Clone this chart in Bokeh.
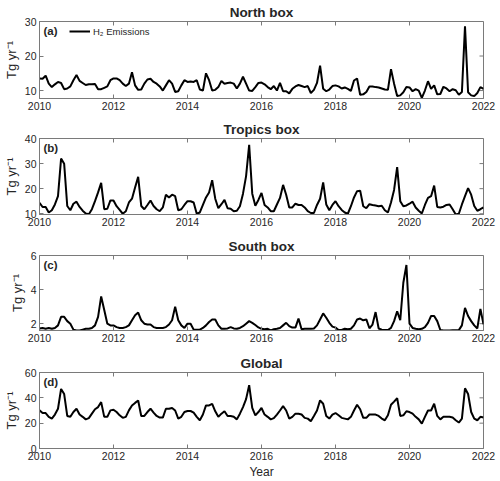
import numpy as np
from bokeh.plotting import figure
from bokeh.layouts import column
from bokeh.models import Range1d, FixedTicker, Label, Legend, LegendItem
from bokeh.embed import file_html
from bokeh.resources import INLINE

# Monthly H2 emissions (Tg yr-1), Jan 2010 .. Jan 2022
north_box = [
    13.5, 13.4, 14.3, 12.0, 11.0, 11.8, 12.5, 12.2, 10.4, 10.6, 11.2, 13.0,
    14.5, 12.8, 12.2, 11.6, 11.8, 11.8, 11.9, 10.4, 10.4, 10.8, 11.2, 13.0,
    13.5, 13.5, 13.0, 12.0, 11.3, 12.0, 15.3, 11.5, 10.2, 10.3, 12.0, 13.2,
    13.4, 12.5, 12.0, 11.2, 10.0, 11.5, 13.0, 12.0, 9.6, 9.8, 11.5, 13.0,
    12.5, 12.6, 12.5, 13.0, 10.3, 10.0, 15.0, 13.0, 10.0, 10.2, 11.0, 12.8,
    12.0, 12.2, 12.3, 12.0, 10.6, 12.0, 14.0, 12.0, 10.0, 9.9, 11.0, 12.2,
    12.3, 11.8, 11.0, 10.4, 11.3, 10.0, 12.2, 9.8, 9.8, 9.2, 10.5, 11.2,
    11.6, 11.3, 11.0, 11.3, 9.3, 10.2, 12.2, 17.2, 10.5, 9.8, 10.3, 11.3,
    11.5, 11.2, 10.6, 10.9, 10.5, 9.9, 12.9, 13.5, 8.8, 8.9, 9.6, 11.2,
    11.2, 11.0, 10.9, 10.6, 10.3, 10.2, 16.2, 12.0, 8.4, 8.6, 9.5, 11.0,
    10.9, 9.8, 10.4, 10.0, 7.9, 10.0, 12.7, 10.5, 11.5, 8.9, 9.0, 11.1,
    10.6, 9.8, 10.4, 10.1, 8.8, 9.6, 28.6, 9.5, 8.6, 8.4, 9.3, 11.0,
    10.5,
]
tropics_box = [
    14.4, 12.7, 12.7, 10.5, 11.4, 13.7, 17.0, 32.0, 29.9, 13.1, 11.4, 14.0,
    14.8, 12.7, 11.2, 10.1, 9.8, 11.8, 15.0, 18.5, 22.3, 11.8, 12.0, 15.3,
    15.3, 13.0, 11.5, 10.0, 11.0, 14.5, 16.0, 20.5, 24.7, 13.1, 11.8, 13.5,
    15.3, 13.1, 11.8, 11.0, 12.5, 17.6, 16.5, 17.6, 17.0, 11.4, 11.8, 13.5,
    15.0, 15.0, 14.5, 10.0, 10.5, 13.5, 16.5, 18.5, 23.4, 16.0, 12.2, 13.8,
    15.5, 12.2, 12.0, 11.0, 11.2, 13.0, 18.0, 25.0, 37.5, 18.0, 13.2, 15.5,
    18.3, 13.5, 12.5, 11.0, 11.0, 13.7, 16.3, 21.5, 17.6, 12.5, 12.5, 14.0,
    13.5, 13.5, 12.5, 11.0, 10.3, 10.3, 13.5, 16.0, 22.5, 13.7, 11.4, 13.5,
    15.0, 13.0, 11.5, 10.5, 10.0, 13.0, 16.5, 19.0, 19.2, 13.0, 12.2, 13.8,
    13.5, 13.3, 13.0, 13.2, 11.4, 10.5, 14.5, 19.5, 28.6, 15.0, 13.0, 13.3,
    14.0, 14.8, 12.5, 11.2, 10.1, 13.5, 16.3, 17.0, 21.2, 12.7, 12.5, 12.8,
    13.5, 13.7, 11.8, 9.7, 10.0, 13.7, 17.0, 20.2, 17.6, 13.1, 11.2, 11.8,
    12.5,
]
south_box = [
    1.72, 1.75, 1.70, 1.75, 1.70, 1.75, 1.90, 2.40, 2.40, 2.15, 2.00, 1.65,
    1.60, 1.60, 1.65, 1.70, 1.70, 1.75, 1.90, 2.40, 3.60, 2.80, 2.00, 1.90,
    1.90, 1.80, 1.75, 1.75, 1.80, 1.90, 2.20, 2.50, 2.65, 2.20, 2.00, 1.95,
    1.95, 1.80, 1.75, 1.75, 1.75, 1.80, 1.95, 2.20, 3.00, 2.20, 1.90, 1.75,
    2.00, 2.00, 1.65, 1.65, 1.65, 1.75, 1.90, 2.10, 2.25, 2.25, 1.90, 1.70,
    1.70, 1.72, 1.80, 1.72, 1.70, 1.75, 1.85, 2.00, 2.15, 2.05, 1.92, 1.78,
    1.70, 1.67, 1.70, 1.60, 1.67, 1.70, 1.75, 1.90, 2.05, 1.86, 1.77, 1.77,
    2.30, 1.67, 1.70, 1.70, 1.70, 1.72, 1.90, 2.25, 2.60, 2.35, 2.05, 1.83,
    1.77, 1.63, 1.63, 1.70, 1.67, 1.70, 1.90, 2.25, 2.30, 2.20, 2.25, 1.73,
    1.95, 2.68, 1.72, 1.65, 1.63, 1.63, 1.75, 2.15, 2.73, 2.20, 4.40, 5.44,
    2.00, 1.75, 1.70, 1.68, 1.70, 1.80, 2.05, 2.45, 2.45, 2.15, 1.63, 1.60,
    1.60, 1.60, 1.62, 1.62, 1.62, 1.90, 2.93, 2.45, 2.15, 1.90, 1.72, 2.87,
    1.96,
]
global_total = [
    30.1, 28.0, 28.0, 25.0, 23.6, 26.8, 31.4, 47.0, 43.0, 25.7, 25.0, 28.8,
    31.4, 26.8, 25.0, 23.0, 24.0, 27.5, 31.0, 32.7, 36.6, 25.0, 25.0, 30.1,
    30.6, 28.8, 26.2, 24.2, 25.0, 30.1, 34.0, 36.0, 37.9, 25.7, 25.7, 28.8,
    31.4, 28.3, 25.7, 24.4, 24.4, 31.4, 31.4, 32.0, 30.0, 23.6, 25.0, 28.8,
    29.6, 29.6, 28.3, 25.0, 22.3, 26.8, 34.0, 34.0, 35.3, 29.4, 25.0, 27.5,
    29.4, 25.7, 25.7, 25.0, 23.0, 27.5, 32.7, 39.0, 50.0, 32.0, 26.2, 28.8,
    32.0, 26.8, 25.0, 23.0, 24.0, 26.8, 30.0, 33.5, 30.0, 23.6, 25.0, 27.5,
    27.5, 26.8, 24.2, 23.6, 21.6, 25.7, 30.0, 38.0, 35.3, 25.7, 23.6, 26.8,
    28.0, 26.2, 24.2, 23.6, 23.0, 25.0, 30.0, 34.5, 31.0, 24.2, 24.2, 26.8,
    26.8, 26.8, 25.7, 23.6, 22.3, 26.2, 34.5, 37.0, 39.7, 25.7, 26.2, 29.4,
    28.8, 27.5, 25.0, 23.0, 19.7, 25.0, 30.0, 30.0, 35.3, 25.7, 23.0, 25.0,
    25.0, 25.0, 24.4, 22.3, 20.5, 23.6, 47.5, 43.0, 28.8, 23.6, 22.3, 25.0,
    24.4,
]

year_ticks = [2010, 2012, 2014, 2016, 2018, 2020, 2022]
time = 2010 + np.arange(len(north_box)) / 12.0

FONT = "Liberation Sans"
TEXT = "#262626"
AXC = "#7a7a7a"


def style_axis(ax, ticks):
    ax.ticker = FixedTicker(ticks=ticks)
    ax.minor_tick_line_color = None
    ax.major_tick_in = 4
    ax.major_tick_out = 0
    ax.major_tick_line_color = AXC
    ax.axis_line_color = AXC
    ax.major_label_text_font = FONT
    ax.major_label_text_color = TEXT
    ax.major_label_text_font_size = "10.5px"
    ax.major_label_standoff = 3


def panel(vals, title, ylo, yhi, yticks, letter, height, top, bottom, xlabel=None):
    p = figure(width=500, height=height, output_backend="svg", toolbar_location=None,
               x_range=Range1d(2010, 2022), y_range=Range1d(ylo, yhi),
               min_border_left=39, min_border_right=17,
               min_border_top=top, min_border_bottom=bottom)
    p.grid.visible = False
    p.outline_line_color = AXC
    p.background_fill_color = "white"
    p.border_fill_color = "white"

    style_axis(p.xaxis[0], year_ticks)
    style_axis(p.yaxis[0], yticks)
    p.yaxis[0].axis_label = "Tg yr\u207b\u00b9"
    p.yaxis[0].axis_label_text_font = FONT
    p.yaxis[0].axis_label_text_font_style = "normal"
    p.yaxis[0].axis_label_text_font_size = "13px"
    p.yaxis[0].axis_label_text_color = TEXT
    p.yaxis[0].axis_label_standoff = 3
    if xlabel:
        p.xaxis[0].axis_label = xlabel
        p.xaxis[0].axis_label_text_font = FONT
        p.xaxis[0].axis_label_text_font_style = "normal"
        p.xaxis[0].axis_label_text_font_size = "12px"
        p.xaxis[0].axis_label_text_color = TEXT
        p.xaxis[0].axis_label_standoff = 2

    # mirrored inward tick marks along the top and right edges of the box
    p.ray(x=year_ticks, y=[yhi] * len(year_ticks), length=4, length_units="screen",
          angle=-np.pi / 2, line_color=AXC, line_width=1)
    p.ray(x=[2022] * len(yticks), y=yticks, length=4, length_units="screen",
          angle=np.pi, line_color=AXC, line_width=1)

    p.title.text = title
    p.title.align = "center"
    p.title.text_font = FONT
    p.title.text_font_size = "13.5px"
    p.title.text_font_style = "bold"
    p.title.text_color = TEXT
    p.title.standoff = 4

    r = p.line(time, vals, line_color="black", line_width=2)

    p.add_layout(Label(x=2010, y=yhi, x_offset=4, y_offset=-3, text=letter,
                       text_baseline="top", text_font=FONT, text_font_size="11.5px",
                       text_font_style="bold", text_color=TEXT))
    return p, r


pa, ra = panel(north_box, "North box", 7.7, 30, [10, 20, 30], "(a)", 117, 20, 19)
pb, _ = panel(tropics_box, "Tropics box", 9.7, 40, [10, 20, 30, 40], "(b)", 116, 20, 19)
pc, _ = panel(south_box, "South box", 1.6, 6, [2, 4, 6], "(c)", 115, 22, 18)
pd, _ = panel(global_total, "Global", 0, 60, [0, 20, 40, 60], "(d)", 133, 24, 32, xlabel="Year")

legend = Legend(items=[LegendItem(label="H\u2082 Emissions", renderers=[ra])],
                location=(30, 61), padding=0, spacing=0, margin=0,
                glyph_width=21, glyph_height=12, label_height=12, label_standoff=3,
                label_text_font=FONT, label_text_font_size="9.5px", label_text_color=TEXT,
                border_line_color=None, background_fill_alpha=0)
pa.add_layout(legend)

layout = column(pa, pb, pc, pd, spacing=0)
open("out.html", "w").write(file_html(layout, INLINE))
